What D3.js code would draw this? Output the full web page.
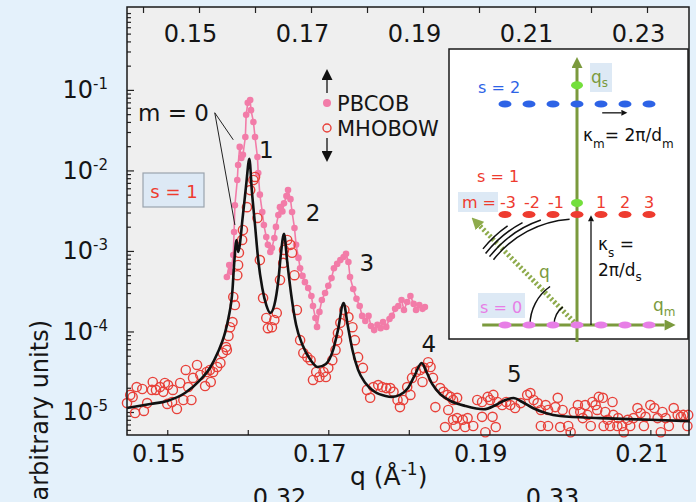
<!DOCTYPE html>
<html>
<head>
<meta charset="utf-8">
<script src="https://cdn.jsdelivr.net/npm/d3@7"></script>
<style>
  body { margin: 0; background: #e4f1fb; }
  svg { display: block; font-family: "DejaVu Sans", sans-serif; }
</style>
</head>
<body>
<div id="chart"></div>
<script>
// values: q in 1/Å, intensity in arbitrary units
const fitCurve = [
  [0.1450,1.12e-5],[0.1479,1.26e-5],[0.1500,1.37e-5],[0.1522,1.72e-5],[0.1541,2.50e-5],
  [0.1553,3.52e-5],[0.1563,5.56e-5],[0.1571,9.05e-5],[0.1576,1.47e-4],[0.1581,3.28e-4],
  [0.1583,6.7e-4],[0.1586,1.37e-3],[0.1588,9.7e-4],[0.1594,2.80e-3],[0.1598,6.6e-3],
  [0.1602,1.39e-2],[0.1605,5.7e-3],[0.1609,2.10e-3],[0.1613,7.7e-4],[0.1618,3.47e-4],
  [0.1623,2.13e-4],[0.1628,1.70e-4],[0.1633,2.13e-4],[0.1638,4.36e-4],[0.1641,8.9e-4],
  [0.1645,1.63e-3],[0.1649,7.3e-4],[0.1654,2.84e-4],[0.1660,1.21e-4],[0.1668,6.8e-5],
  [0.1678,4.42e-5],[0.1687,3.62e-5],[0.1697,3.95e-5],[0.1706,5.9e-5],[0.1712,1.04e-4],
  [0.1719,2.26e-4],[0.1724,1.21e-4],[0.1730,5.9e-5],[0.1737,3.33e-5],[0.1746,2.29e-5],
  [0.1758,1.77e-5],[0.1771,1.58e-5],[0.1779,1.54e-5],[0.1789,1.63e-5],[0.1799,1.99e-5],
  [0.1807,2.80e-5],[0.1816,4.06e-5],[0.1822,3.14e-5],[0.1829,2.23e-5],[0.1839,1.67e-5],
  [0.1852,1.37e-5],[0.1870,1.19e-5],[0.1893,1.08e-5],[0.1908,1.22e-5],[0.1920,1.41e-5],
  [0.1930,1.49e-5],[0.1941,1.33e-5],[0.1954,1.12e-5],[0.1970,9.7e-6],[0.1988,8.9e-6],
  [0.2038,8.4e-6],[0.2100,8.0e-6],[0.2149,7.7e-6]
];

const pbcob = [
  [0.1574,4.75e-4],[0.1577,6.7e-4],[0.1579,5.5e-4],[0.1582,8.9e-4],[0.1583,1.72e-3],
  [0.1584,3.7e-3],[0.1587,7.6e-3],[0.1588,1.17e-2],[0.1590,1.96e-2],[0.1592,1.43e-2],
  [0.1594,1.56e-2],[0.1597,2.6e-2],[0.1598,4.9e-2],[0.1600,6.9e-2],[0.1603,7.5e-2],
  [0.1604,5.6e-2],[0.1607,4.0e-2],[0.1609,2.6e-2],[0.1612,1.47e-2],[0.1613,9.3e-3],
  [0.1615,5.0e-3],[0.1618,3.05e-3],[0.1620,2.10e-3],[0.1623,1.49e-3],[0.1625,1.19e-3],
  [0.1628,9.7e-4],[0.1630,1.09e-3],[0.1633,1.45e-3],[0.1635,1.99e-3],[0.1638,2.80e-3],
  [0.1640,3.5e-3],[0.1643,3.1e-3],[0.1645,3.9e-3],[0.1648,4.8e-3],[0.1650,5.7e-3],
  [0.1653,4.4e-3],[0.1655,3.05e-3],[0.1658,1.93e-3],[0.1660,1.19e-3],[0.1663,8.2e-4],
  [0.1665,6.1e-4],[0.1668,4.9e-4],[0.1671,4.1e-4],[0.1675,3.47e-4],[0.1679,2.76e-4],
  [0.1681,2.07e-4],[0.1684,1.47e-4],[0.1686,1.14e-4],[0.1689,1.75e-4],[0.1692,2.46e-4],
  [0.1696,3.0e-4],[0.1700,3.7e-4],[0.1704,4.6e-4],[0.1707,6.1e-4],[0.1711,6.9e-4],
  [0.1715,7.7e-4],[0.1719,8.4e-4],[0.1722,9.2e-4],[0.1725,7.3e-4],[0.1727,4.75e-4],
  [0.1731,3.37e-4],[0.1735,2.54e-4],[0.1739,2.07e-4],[0.1742,1.56e-4],[0.1746,1.35e-4],
  [0.1750,1.56e-4],[0.1753,1.17e-4],[0.1757,1.04e-4],[0.1761,1.21e-4],[0.1765,1.10e-4],
  [0.1768,1.31e-4],[0.1772,1.14e-4],[0.1776,1.43e-4],[0.1779,1.56e-4],[0.1783,1.91e-4],
  [0.1787,2.07e-4],[0.1791,2.46e-4],[0.1794,1.85e-4],[0.1798,2.32e-4],[0.1802,2.76e-4],
  [0.1806,2.20e-4],[0.1809,1.85e-4],[0.1813,2.13e-4],[0.1817,1.91e-4],[0.1820,2.01e-4]
];

const mhobow = [
  [0.1450,1.29e-5],[0.1454,1.63e-5],[0.1457,1.54e-5],[0.1460,9.7e-6],[0.1462,2.04e-5],
  [0.1469,1.93e-5],[0.1471,1.03e-5],[0.1475,1.29e-5],[0.1481,1.88e-5],[0.1482,2.36e-5],
  [0.1486,1.88e-5],[0.1491,2.04e-5],[0.1495,1.78e-5],[0.1497,2.29e-5],[0.1500,1.26e-5],
  [0.1501,2.16e-5],[0.1506,1.33e-5],[0.1507,1.88e-5],[0.1512,1.09e-5],[0.1516,2.29e-5],
  [0.1520,1.41e-5],[0.1523,3.33e-5],[0.1526,2.04e-5],[0.1530,1.41e-5],[0.1532,2.65e-5],
  [0.1537,3.84e-5],[0.1541,2.88e-5],[0.1547,2.10e-5],[0.1549,3.14e-5],[0.1553,3.33e-5],
  [0.1554,2.36e-5],[0.1557,3.14e-5],[0.1562,3.62e-5],[0.1566,4.07e-5],[0.1569,5.4e-5],
  [0.1573,6.4e-5],[0.1574,5.9e-5],[0.1576,8.8e-5],[0.1578,1.13e-4],[0.1581,1.31e-4],
  [0.1582,2.68e-4],[0.1584,2.13e-4],[0.1587,5.0e-4],[0.1588,6.7e-4],[0.1589,9.5e-4],
  [0.1593,1.37e-3],[0.1594,1.82e-3],[0.1599,3.5e-3],[0.1603,5.7e-3],[0.1607,7.6e-3],
  [0.1609,8.3e-3],[0.1612,2.57e-3],[0.1615,7.7e-4],[0.1619,2.6e-4],[0.1623,1.47e-4],
  [0.1625,1.10e-4],[0.1630,1.13e-4],[0.1633,1.39e-4],[0.1636,1.70e-4],[0.1640,4.36e-4],
  [0.1644,7.1e-4],[0.1645,1.03e-3],[0.1649,1.37e-3],[0.1653,1.19e-3],[0.1655,9.5e-4],
  [0.1658,5.0e-4],[0.1661,1.85e-4],[0.1665,7.8e-5],[0.1669,5.4e-5],[0.1674,4.8e-5],
  [0.1678,4.4e-5],[0.1681,2.50e-5],[0.1685,3.14e-5],[0.1689,2.72e-5],[0.1694,3.14e-5],
  [0.1697,2.72e-5],[0.1700,3.53e-5],[0.1705,4.4e-5],[0.1709,5.9e-5],[0.1711,7.8e-5],
  [0.1712,9.6e-5],[0.1715,1.28e-4],[0.1720,1.85e-4],[0.1725,1.51e-4],[0.1730,1.13e-4],
  [0.1733,7.8e-5],[0.1737,4.8e-5],[0.1743,3.53e-5],[0.1748,1.88e-5],[0.1752,1.50e-5],
  [0.1756,2.04e-5],[0.1762,2.16e-5],[0.1767,2.04e-5],[0.1772,1.98e-5],[0.1777,1.98e-5],
  [0.1781,1.78e-5],[0.1786,1.41e-5],[0.1789,1.15e-5],[0.1793,1.41e-5],[0.1798,2.04e-5],
  [0.1802,1.63e-5],[0.1804,2.65e-5],[0.1809,3.14e-5],[0.1814,3.33e-5],[0.1817,2.36e-5],
  [0.1819,3.53e-5],[0.1824,4.15e-5],[0.1827,3.62e-5],[0.1830,2.65e-5],[0.1833,1.15e-5],
  [0.1839,1.98e-5],[0.1843,1.78e-5],[0.1845,6.5e-6],[0.1848,1.63e-5],[0.1849,1.06e-5],
  [0.1852,1.54e-5],[0.1855,1.41e-5],[0.1855,8.0e-6],[0.1858,6.7e-6],[0.1860,1.50e-5],
  [0.1860,8.4e-6],[0.1867,8.0e-6],[0.1870,6.5e-6],[0.1873,8.4e-6],[0.1880,6.7e-6],
  [0.1885,1.41e-5],[0.1891,1.33e-5],[0.1891,8.7e-6],[0.1895,5.6e-6],[0.1898,1.54e-5],
  [0.1901,1.41e-5],[0.1904,8.7e-6],[0.1905,1.63e-5],[0.1908,6.5e-6],[0.1910,1.33e-5],
  [0.1916,1.22e-5],[0.1921,1.33e-5],[0.1926,1.22e-5],[0.1932,1.12e-5],[0.1939,1.29e-5],
  [0.1947,1.63e-5],[0.1951,1.72e-5],[0.1955,1.41e-5],[0.1960,1.29e-5],[0.1964,1.06e-5],
  [0.1964,6.7e-6],[0.1970,1.22e-5],[0.1973,1.06e-5],[0.1973,6.7e-6],[0.1982,1.15e-5],
  [0.1985,1.50e-5],[0.1988,6.5e-6],[0.1991,1.06e-5],[0.1998,6.7e-6],[0.2001,5.6e-6],
  [0.2005,1.0e-5],[0.2010,1.22e-5],[0.2013,1.0e-5],[0.2016,8.4e-6],[0.2019,1.22e-5],
  [0.2022,9.2e-6],[0.2026,6.7e-6],[0.2028,1.33e-5],[0.2032,1.22e-5],[0.2034,1.06e-5],
  [0.2036,1.54e-5],[0.2041,1.50e-5],[0.2042,6.7e-6],[0.2044,1.0e-5],[0.2047,8.0e-6],
  [0.2050,6.7e-6],[0.2053,1.33e-5],[0.2054,9.2e-6],[0.2059,6.7e-6],[0.2060,8.4e-6],
  [0.2065,6.7e-6],[0.2067,5.6e-6],[0.2072,8.0e-6],[0.2075,6.7e-6],[0.2079,8.4e-6],
  [0.2084,1.12e-5],[0.2088,9.7e-6],[0.2092,6.7e-6],[0.2094,8.7e-6],[0.2100,1.22e-5],
  [0.2105,1.12e-5],[0.2109,8.4e-6],[0.2113,5.6e-6],[0.2115,1.0e-5],[0.2119,8.4e-6],
  [0.2123,6.7e-6],[0.2129,1.12e-5],[0.2134,9.2e-6],[0.2138,8.7e-6],[0.2141,9.2e-6],
  [0.2146,6.7e-6],[0.2147,9.2e-6]
];

const bottomTicks = [0.15, 0.16, 0.17, 0.18, 0.19, 0.20, 0.21];
const bottomLabels = [0.15, 0.17, 0.19, 0.21];
const topTicks = [0.14, 0.15, 0.16, 0.17, 0.18, 0.19, 0.20, 0.21, 0.22, 0.23];
const topLabels = [0.15, 0.17, 0.19, 0.21, 0.23];
const lowerLabels = [0.32, 0.33];
const decadeExps = [-5, -4, -3, -2, -1];

const peakNames = ["1", "2", "3", "4", "5"];
const peakSpots = [[0.1623,1.43e-2],[0.1681,2.36e-3],[0.1748,5.6e-4],[0.1825,5.6e-5],[0.1931,2.36e-5]];
// m = 0 leader lines: from the label to the two small m=0 peaks
const m0From = [0.1559, 5.2e-2];
const m0Targets = [[0.1582, 2.4e-2], [0.1584, 2.1e-3]];

// inset: reciprocal lattice spots, rows s = 0,1,2 and columns m = -3..3
const insetM = [-3, -2, -1, 0, 1, 2, 3];
const insetRows = [0, 1, 2];
const insetRowColors = ["#e77ee6", "#ee3b2f", "#2d63e6"];
const insetMLabels = [-3, -2, -1, 1, 2, 3];
const insetAxisSpots = [1.105, 2.17];
// Ewald-like arcs: [radius, start angle, end angle] in degrees
const insetArcs = [[23,128,180],[47,125,180],[106,94,142],[111,109,142],[116,118,142],[121,125,141]];

const width = 696, height = 502;
const margin = {top: 7, right: 7, bottom: 67, left: 127};
const plotW = width - margin.left - margin.right;
const plotH = height - margin.top - margin.bottom;
const green = "#7b9a3d";

let svg = d3.select("#chart").append("svg")
    .attr("width", width)
    .attr("height", height);

let defs = svg.append("defs");
function marker(id, color, w, h) {
  defs.append("marker")
      .attr("id", id)
      .attr("viewBox", "0 0 10 10")
      .attr("markerUnits", "userSpaceOnUse")
      .attr("markerWidth", w).attr("markerHeight", h)
      .attr("refX", 0).attr("refY", 5)
      .attr("orient", "auto")
    .append("path").attr("d", "M0,0 L10,5 L0,10 z").attr("fill", color);
}
marker("greenHead", green, 12, 11);
marker("qHead", "#8eab4c", 12, 12);
marker("blackHead", "#111", 12, 11);
marker("smallHead", "#111", 7, 6);

let g = svg.append("g").attr("transform", `translate(${margin.left},${margin.top})`);

g.append("rect").attr("width", plotW).attr("height", plotH).attr("fill", "#efefef");

let x = d3.scaleLinear().domain([0.145, 0.2148]).range([0, plotW]);
let xTop = d3.scaleLinear().domain([0.13714, 0.2375]).range([0, plotW]);
let xLow = d3.scaleLinear().domain([0.32, 0.33]).range([152, 425]);
let y = d3.scaleLog().domain([5.18e-6, 1.07]).range([plotH, 0]);

// left axis: minor and major ticks pointing inward
let minorTicks = [];
for (let e = -6; e <= 0; e++) {
  for (let k = 2; k <= 9; k++) {
    const v = k * Math.pow(10, e);
    if (v > y.domain()[0] && v < y.domain()[1]) minorTicks.push(v);
  }
}
const decades = decadeExps.map(e => Math.pow(10, e));

function styleAxis(a) {
  a.select(".domain").remove();
  a.selectAll("line").attr("stroke", "#222").attr("stroke-width", 1.2);
  a.selectAll("text").attr("fill", "#151515").style("font-size", "24px")
      .attr("font-family", "DejaVu Sans");
}

g.append("g").call(d3.axisLeft(y).tickValues(minorTicks).tickSize(-4).tickFormat("")).call(styleAxis);
g.append("g").call(d3.axisLeft(y).tickValues(decades).tickSize(-7).tickFormat("")).call(styleAxis);

g.selectAll(".ylab").data(decadeExps).enter().append("text")
    .attr("class", "ylab")
    .attr("x", -19)
    .attr("y", d => y(Math.pow(10, d)) + 8.5)
    .attr("text-anchor", "end")
    .attr("fill", "#151515")
    .style("font-size", "24px")
    .each(function(d) {
      const t = d3.select(this);
      t.append("tspan").text("10");
      t.append("tspan").attr("dy", -9).style("font-size", "15px").text(String(d));
    });

const fmt = d3.format(".2f");
const isLabel = list => d => list.some(v => Math.abs(v - d) < 1e-9) ? fmt(d) : "";

g.append("g")
    .attr("transform", `translate(0,${plotH})`)
    .call(d3.axisBottom(x).tickValues(bottomTicks).tickSize(-5).tickPadding(10).tickFormat(isLabel(bottomLabels)))
    .call(styleAxis)
    .call(a => a.selectAll("text").attr("dx", -9));

g.append("g")
    .call(d3.axisTop(xTop).tickValues(topTicks).tickSize(-6).tickPadding(-35).tickFormat(isLabel(topLabels)))
    .call(styleAxis)
    .call(a => a.selectAll("text").attr("dx", -9));

// second q scale, cut by the bottom edge as in the source figure
g.append("g")
    .attr("transform", `translate(0,${plotH})`)
    .call(d3.axisBottom(xLow).tickValues(lowerLabels).tickSize(0).tickPadding(54).tickFormat(fmt))
    .call(styleAxis);

// data
let line = d3.line().x(d => x(d[0])).y(d => y(d[1]));

g.append("path").datum(pbcob)
    .attr("d", line)
    .attr("fill", "none").attr("stroke", "#f27ca8").attr("stroke-width", 1.6);
g.selectAll(".pb").data(pbcob).enter().append("circle")
    .attr("class", "pb")
    .attr("cx", d => x(d[0])).attr("cy", d => y(d[1]))
    .attr("r", 3.3).attr("fill", "#f27ca8");

g.selectAll(".mh").data(mhobow).enter().append("circle")
    .attr("class", "mh")
    .attr("cx", d => x(d[0])).attr("cy", d => y(d[1]))
    .attr("r", 4.6).attr("fill", "none").attr("stroke", "#e8413a").attr("stroke-width", 1.4);

g.append("path").datum(fitCurve)
    .attr("d", line.curve(d3.curveMonotoneX))
    .attr("fill", "none").attr("stroke", "#111").attr("stroke-width", 2.6);

// peak numbers
g.selectAll(".peak").data(peakSpots).enter().append("text")
    .attr("class", "peak")
    .attr("x", d => x(d[0])).attr("y", d => y(d[1]))
    .attr("text-anchor", "middle")
    .attr("fill", "#151515")
    .style("font-size", "23px")
    .text((d, i) => peakNames[i]);

// m = 0 label with leader lines
g.append("text").attr("x", 11).attr("y", 114).attr("fill", "#151515")
    .style("font-size", "23px").text("m = 0");
g.selectAll(".lead").data(m0Targets).enter().append("line")
    .attr("x1", x(m0From[0])).attr("y1", y(m0From[1]))
    .attr("x2", d => x(d[0])).attr("y2", d => y(d[1]))
    .attr("stroke", "#222").attr("stroke-width", 1);

// s = 1 box
g.append("rect").attr("x", 16).attr("y", 166).attr("width", 61).attr("height", 34)
    .attr("fill", "#dde9f5").attr("stroke", "#9aa3ad").attr("stroke-width", 1.2);
g.append("text").attr("x", 47).attr("y", 191).attr("text-anchor", "middle")
    .attr("fill", "#ee3b2f").style("font-size", "18px").text("s = 1");

// legend
g.append("line").attr("x1", 200).attr("y1", 86).attr("x2", 200).attr("y2", 73)
    .attr("stroke", "#111").attr("stroke-width", 1.3).attr("marker-end", "url(#blackHead)");
g.append("circle").attr("cx", 200).attr("cy", 96).attr("r", 4).attr("fill", "#f27ca8");
g.append("text").attr("x", 210).attr("y", 104).attr("fill", "#151515")
    .style("font-size", "21px").text("PBCOB");
g.append("circle").attr("cx", 200).attr("cy", 121).attr("r", 4)
    .attr("fill", "none").attr("stroke", "#e8413a").attr("stroke-width", 1.4);
g.append("text").attr("x", 210).attr("y", 129).attr("fill", "#151515")
    .style("font-size", "21px").text("MHOBOW");
g.append("line").attr("x1", 200).attr("y1", 131).attr("x2", 200).attr("y2", 144)
    .attr("stroke", "#111").attr("stroke-width", 1.3).attr("marker-end", "url(#blackHead)");

// plot frame
g.append("rect").attr("width", plotW).attr("height", plotH)
    .attr("fill", "none").attr("stroke", "#1a1a1a").attr("stroke-width", 1.5);

// axis titles
let qTitle = svg.append("text").attr("x", 350).attr("y", 485).attr("fill", "#151515")
    .style("font-size", "25px");
qTitle.append("tspan").text("q (Å");
qTitle.append("tspan").attr("dy", -10).style("font-size", "17px").text("-1");
qTitle.append("tspan").attr("dy", 10).text(")");

svg.append("text")
    .attr("transform", "translate(48,320) rotate(-90)")
    .attr("text-anchor", "end")
    .attr("fill", "#151515")
    .style("font-size", "24px")
    .text("Intensity (arbitrary units)");

// inset diagram
const inset = {x: 449, y: 49, w: 239, h: 290, ox: 577, oy: 325};
svg.append("rect").attr("x", inset.x).attr("y", inset.y).attr("width", inset.w).attr("height", inset.h)
    .attr("fill", "#fff").attr("stroke", "#1a1a1a").attr("stroke-width", 1.5);

let io = svg.append("g").attr("transform", `translate(${inset.ox},${inset.oy})`);
let im = d3.scaleLinear().domain([-3, 3]).range([-72, 72]);
let is = d3.scaleLinear().domain([0, 1]).range([0, -110.5]);

// light blue label backgrounds
io.append("rect").attr("x", 13).attr("y", -262).attr("width", 22).attr("height", 29).attr("fill", "#dde9f5");
io.append("rect").attr("x", -119).attr("y", -133).attr("width", 40).attr("height", 20).attr("fill", "#dde9f5");
io.append("rect").attr("x", -99).attr("y", -32).attr("width", 47).attr("height", 25).attr("fill", "#dde9f5");

// scattering vector q (dashed)
io.append("line").attr("x1", -3).attr("y1", -3).attr("x2", -97).attr("y2", -99)
    .attr("stroke", "#8eab4c").attr("stroke-width", 5).attr("stroke-dasharray", "2.2,2.2")
    .attr("marker-end", "url(#qHead)");

// axes
io.append("line").attr("x1", 0).attr("y1", 17).attr("x2", 0).attr("y2", is(2.325))
    .attr("stroke", green).attr("stroke-width", 3).attr("marker-end", "url(#greenHead)");
io.append("line").attr("x1", im(-3.95)).attr("y1", 0).attr("x2", im(3.65)).attr("y2", 0)
    .attr("stroke", green).attr("stroke-width", 3).attr("marker-end", "url(#greenHead)");

// arcs
function arcPath(r, t0, t1) {
  const a0 = -t0 * Math.PI / 180, a1 = -t1 * Math.PI / 180;
  const p = d3.path();
  p.moveTo(r * Math.cos(a0), r * Math.sin(a0));
  p.arc(0, 0, r, a0, a1, a1 < a0);
  return p.toString();
}
io.selectAll(".arc").data(insetArcs).enter().append("path")
    .attr("d", d => arcPath(d[0], d[1], d[2]))
    .attr("fill", "none").attr("stroke", "#111").attr("stroke-width", 1.5);

// lattice spots
insetRows.forEach(s => {
  io.selectAll(".spot" + s).data(insetM).enter().append("ellipse")
      .attr("cx", d => im(d)).attr("cy", is(s))
      .attr("rx", 6.5).attr("ry", 3.6)
      .attr("fill", insetRowColors[s]);
});
io.selectAll(".gspot").data(insetAxisSpots).enter().append("ellipse")
    .attr("cx", 0).attr("cy", d => is(d))
    .attr("rx", 6).attr("ry", 4).attr("fill", "#74df3c");

// black arrows
io.append("line").attr("x1", 14).attr("y1", 0).attr("x2", 14).attr("y2", is(0.94))
    .attr("stroke", "#111").attr("stroke-width", 1.3).attr("marker-end", "url(#smallHead)");
io.append("line").attr("x1", im(1.05)).attr("y1", is(1.92)).attr("x2", im(1.85)).attr("y2", is(1.92))
    .attr("stroke", "#111").attr("stroke-width", 1.3).attr("marker-end", "url(#smallHead)");

// inset texts
function subText(xp, yp, parts, color, size) {
  const t = io.append("text").attr("x", xp).attr("y", yp).attr("fill", color).style("font-size", size + "px");
  parts.forEach(p => {
    t.append("tspan").attr("dy", p[1]).style("font-size", (p[2] || size) + "px").text(p[0]);
  });
  return t;
}
subText(14, -242, [["q", 0], ["s", 4, 12]], green, 17);
subText(76, -14, [["q", 0], ["m", 5, 12]], green, 17);
subText(-38, -47, [["q", 0]], green, 17);
subText(-99, -232, [["s = 2", 0]], insetRowColors[2], 16);
subText(-100, -143, [["s = 1", 0]], insetRowColors[1], 16);
subText(-97, -12, [["s = 0", 0]], insetRowColors[0], 16);
subText(6, -184, [["κ", 0], ["m", 7, 12], ["= 2π/d", -7], ["m", 7, 12]], "#111", 17);
subText(21, -75, [["κ", 0], ["s", 7, 12], [" =", -7]], "#111", 17);
subText(21, -49, [["2π/d", 0], ["s", 5, 12]], "#111", 17);

io.append("text").attr("x", -81).attr("y", -117).attr("text-anchor", "end")
    .attr("fill", insetRowColors[1]).style("font-size", "16px").text("m =");
io.selectAll(".mlab").data(insetMLabels).enter().append("text")
    .attr("x", d => im(d) + (d < 0 ? 3 : 0)).attr("y", -117)
    .attr("text-anchor", "middle")
    .attr("fill", insetRowColors[1]).style("font-size", "16px")
    .text(d => String(d));
</script>
</body>
</html>
